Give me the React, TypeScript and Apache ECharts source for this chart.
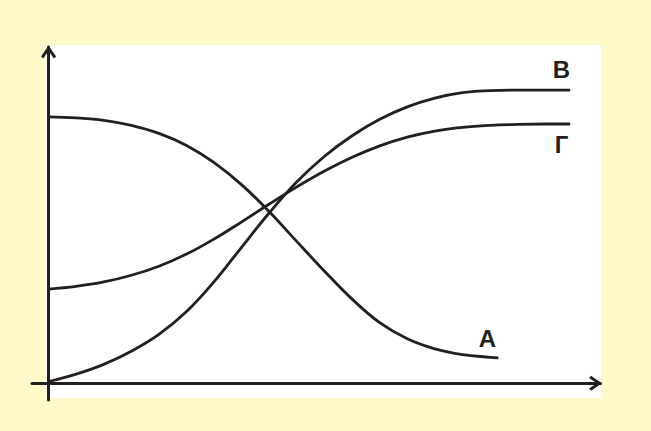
import React, { useEffect, useRef } from "react";
import * as echarts from "echarts";

// x positions (arbitrary units, 0..100 along the horizontal axis)
const xsA = [0, 5, 10, 15, 20, 25, 30, 35, 40, 45, 50, 55, 60, 65, 70, 75, 80, 81.5];
const xsBG = [0, 5, 10, 15, 20, 25, 30, 35, 40, 45, 50, 55, 60, 65, 70, 75, 80, 85, 90, 94.5];

// curve А – falling
const valuesA = [79.2, 78.9, 78.2, 76.7, 74.3, 70.7, 65.6, 59.0, 51.0, 42.1, 33.3, 25.0, 18.0, 13.2, 10.2, 8.5, 7.7, 7.5];
// curve В – rising from zero
const valuesB = [0.5, 2.7, 5.6, 9.5, 14.5, 21.3, 30.2, 40.5, 50.7, 59.9, 67.5, 73.6, 78.5, 82.2, 84.8, 86.4, 87.0, 87.2, 87.2, 87.2];
// curve Г – rising from a start level
const valuesG = [28.0, 28.8, 30.1, 32.1, 34.8, 38.4, 42.9, 48.0, 53.3, 58.4, 63.1, 67.2, 70.6, 73.2, 75.0, 76.1, 76.7, 77.0, 77.1, 77.1];

const curveNames = ["А", "В", "Г"];

const INK = "#231F20";
const chevron = "path://M7.5,0 L15,11 L12.8,13 L7.5,5.2 L2.2,13 L0,11 Z";

const pairs = (xs: number[], ys: number[]) => xs.map((x, i) => [x, ys[i]]);

const App: React.FC = () => {
  const chartRef = useRef<HTMLDivElement>(null);

  useEffect(() => {
    if (!chartRef.current) return;
    const myChart = echarts.init(chartRef.current, null, { renderer: "svg" });

    const axisLine = {
      onZero: true,
      lineStyle: { color: INK, width: 3 },
      symbol: ["none", chevron],
      symbolSize: [15, 13],
      symbolOffset: [0, -5],
    };

    const lineSeries = (name: string, data: number[][]) => ({
      name,
      type: "line",
      data,
      smooth: 0.4,
      symbol: "none",
      silent: true,
      clip: false,
      lineStyle: { color: INK, width: 2.8 },
    });

    const label = (text: string, x: number, y: number) => ({
      type: "text",
      x,
      y,
      z: 100,
      style: {
        text,
        fill: INK,
        font: "bold 24px 'Liberation Sans', Arial, sans-serif",
        align: "center",
        verticalAlign: "middle",
      },
    });

    const option: any = {
      animation: false,
      backgroundColor: "#FFF9CA",
      grid: { left: 32, right: 50.5, top: 47, bottom: 31 },
      xAxis: {
        type: "value",
        min: -3,
        max: 100,
        axisLine,
        axisTick: { show: false },
        axisLabel: { show: false },
        splitLine: { show: false },
      },
      yAxis: {
        type: "value",
        min: -5,
        max: 100,
        axisLine,
        axisTick: { show: false },
        axisLabel: { show: false },
        splitLine: { show: false },
      },
      graphic: [
        {
          type: "rect",
          z: -10,
          shape: { x: 46, y: 45, width: 555, height: 353 },
          style: { fill: "#ffffff" },
          silent: true,
        },
        label(curveNames[1], 561.5, 69),
        label(curveNames[2], 561.5, 144),
        label(curveNames[0], 487.5, 338.5),
      ],
      series: [
        lineSeries(curveNames[0], pairs(xsA, valuesA)),
        lineSeries(curveNames[1], pairs(xsBG, valuesB)),
        lineSeries(curveNames[2], pairs(xsBG, valuesG)),
      ],
    };

    myChart.setOption(option);

    return () => {
      myChart.dispose();
    };
  }, []);

  return (
    <div
      ref={chartRef}
      style={{ position: "absolute", left: 0, top: 0, width: "651px", height: "431px" }}
    />
  );
};

export default App;
